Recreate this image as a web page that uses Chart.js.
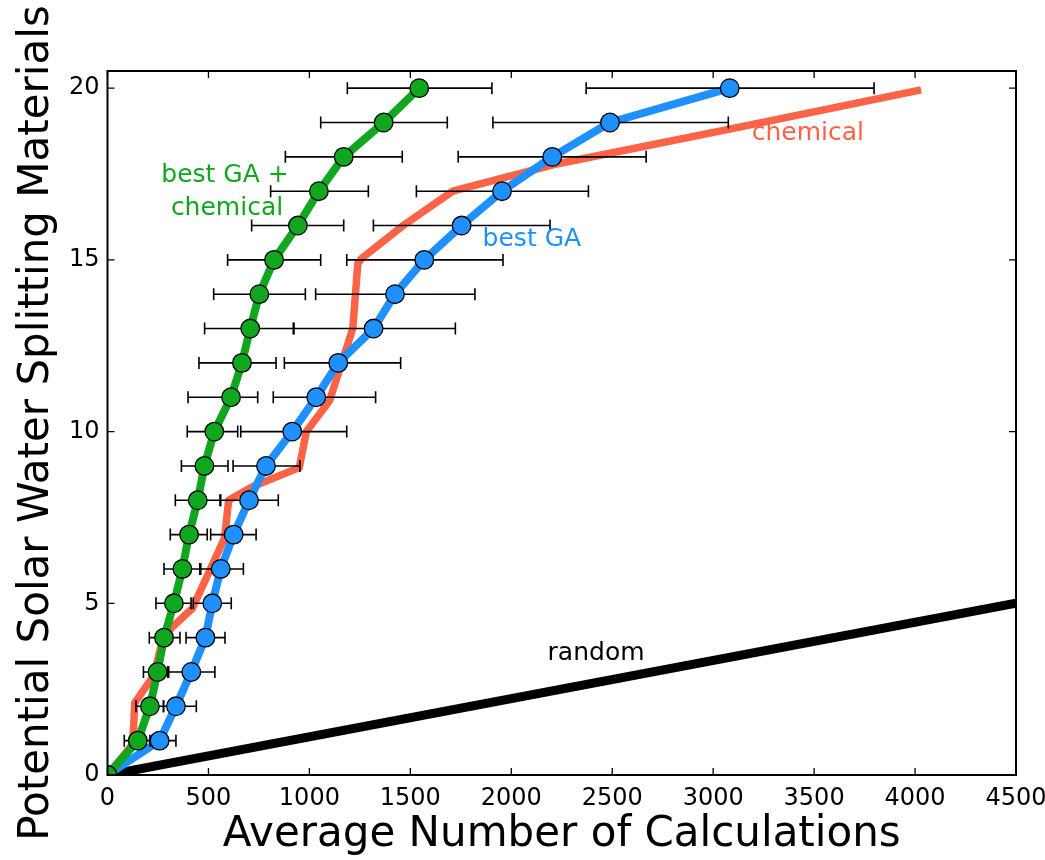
<!DOCTYPE html>
<html>
<head>
<meta charset="utf-8">
<script src="https://cdn.jsdelivr.net/npm/chart.js@4.4.1/dist/chart.umd.min.js"></script>
<style>
  html, body { margin: 0; padding: 0; background: #fff; }
  #wrap { width: 1045px; height: 860px; }
</style>
</head>
<body>
<div id="wrap"><canvas id="chart" width="1045" height="860"></canvas></div>
<script>
// number of materials found (y) for each run
const levels = [0, 1, 2, 3, 4, 5, 6, 7, 8, 9, 10, 11, 12, 13, 14, 15, 16, 17, 18, 19, 20];

// best GA + chemical
const greenX = [0, 150, 210, 248, 280, 329, 371, 404, 447, 480, 529, 612, 666, 707, 752, 825, 943, 1047, 1170, 1368, 1544];
const greenLo = [null, 83, 141, 178, 207, 240, 280, 311, 336, 366, 395, 399, 453, 481, 526, 595, 714, 808, 881, 1056, 1188];
const greenHi = [null, 219, 278, 298, 359, 414, 462, 494, 561, 597, 645, 744, 835, 920, 980, 1056, 1170, 1292, 1460, 1683, 1904];

// best GA
const blueX = [0, 258, 339, 415, 485, 519, 561, 625, 701, 785, 915, 1034, 1143, 1318, 1424, 1569, 1754, 1954, 2203, 2489, 3082];
const blueLo = [null, 210, 277, 303, 389, 425, 457, 511, 557, 622, 660, 821, 876, 924, 1031, 1185, 1317, 1530, 1737, 1909, 2371];
const blueHi = [null, 339, 440, 532, 582, 613, 673, 736, 846, 953, 1185, 1328, 1452, 1723, 1820, 1959, 2192, 2382, 2668, 3075, 3797];

// chemical ranking
const chemX = [0, 125, 135, 170, 230, 275, 320, 420, 510, 580, 600, 720, 950, 985, 1100, 1160, 1215, 1240, 1260, 1465, 1710, 2230, 3075, 4030];
const chemY = [0, 0.9, 2.1, 2.4, 2.9, 4, 4.3, 4.85, 6, 6.9, 8, 8.4, 8.95, 10, 10.9, 12, 13, 14.9, 15.05, 16, 17, 17.8, 18.8, 19.95];

// random search
const randX = [0, 4500];
const randY = [0, 5];

const xTicks = [0, 500, 1000, 1500, 2000, 2500, 3000, 3500, 4000, 4500];
const yTicks = [0, 5, 10, 15, 20];

const GREEN = "#10a61e";
const BLUE = "#1e90ff";
const ORANGE = "#ff6347";
const FONT = "'DejaVu Sans', 'Verdana', sans-serif";

const toPoints = (xs, ys) => xs.map((x, i) => ({ x: x, y: ys[i] }));

const labels = [
  { text: "best GA +", x: 582, y: 17.47, color: GREEN },
  { text: "chemical", x: 592, y: 16.51, color: GREEN },
  { text: "best GA", x: 2102, y: 15.58, color: BLUE },
  { text: "chemical", x: 3469, y: 18.69, color: ORANGE },
  { text: "random", x: 2420, y: 3.53, color: "#000" },
];

// horizontal error bars, drawn after the lines and before the markers
const errorBars = {
  id: "errorBars",
  afterDatasetDraw(chart, args) {
    if (args.index !== 2) return;
    const { ctx, scales } = chart;
    const sets = [
      [blueLo, blueHi],
      [greenLo, greenHi],
    ];
    ctx.save();
    ctx.strokeStyle = "#000";
    ctx.lineWidth = 1.6;
    sets.forEach(([lo, hi]) => {
      levels.forEach((lv, i) => {
        if (lo[i] == null) return;
        const y = scales.y.getPixelForValue(lv);
        const x1 = scales.x.getPixelForValue(lo[i]);
        const x2 = scales.x.getPixelForValue(hi[i]);
        ctx.beginPath();
        ctx.moveTo(x1, y);
        ctx.lineTo(x2, y);
        ctx.moveTo(x1, y - 6);
        ctx.lineTo(x1, y + 6);
        ctx.moveTo(x2, y - 6);
        ctx.lineTo(x2, y + 6);
        ctx.stroke();
      });
    });
    ctx.restore();
  },
};

// box round the plot with inward ticks, plus the text labels
const frame = {
  id: "frame",
  afterDraw(chart) {
    const { ctx, chartArea: a, scales } = chart;
    ctx.save();
    ctx.strokeStyle = "#000";
    ctx.lineWidth = 2;
    ctx.strokeRect(a.left, a.top, a.right - a.left, a.bottom - a.top);
    ctx.lineWidth = 1.3;
    ctx.beginPath();
    xTicks.forEach((v) => {
      const x = scales.x.getPixelForValue(v);
      ctx.moveTo(x, a.bottom);
      ctx.lineTo(x, a.bottom - 7);
      ctx.moveTo(x, a.top);
      ctx.lineTo(x, a.top + 7);
    });
    yTicks.forEach((v) => {
      const y = scales.y.getPixelForValue(v);
      ctx.moveTo(a.left, y);
      ctx.lineTo(a.left + 7, y);
      ctx.moveTo(a.right, y);
      ctx.lineTo(a.right - 7, y);
    });
    ctx.stroke();

    ctx.font = "25px " + FONT;
    ctx.textAlign = "center";
    ctx.textBaseline = "middle";
    labels.forEach((l) => {
      ctx.fillStyle = l.color;
      ctx.fillText(l.text, scales.x.getPixelForValue(l.x), scales.y.getPixelForValue(l.y));
    });
    ctx.restore();
  },
};

const markerStyle = (color) => ({
  showLine: false,
  pointRadius: 9.3,
  pointBackgroundColor: color,
  pointBorderColor: "#000",
  pointBorderWidth: 1.3,
  clip: 0,
});

const lineStyle = (color, width) => ({
  borderColor: color,
  borderWidth: width,
  pointRadius: 0,
  borderJoinStyle: "round",
  fill: false,
  clip: 0,
});

chart = new Chart(document.getElementById("chart").getContext("2d"), {
  type: "line",
  data: {
    datasets: [
      { label: "best GA + chemical", data: toPoints(greenX, levels), ...markerStyle(GREEN) },
      { label: "best GA", data: toPoints(blueX, levels), ...markerStyle(BLUE) },
      { label: "best GA + chemical line", data: toPoints(greenX, levels), ...lineStyle(GREEN, 8) },
      { label: "best GA line", data: toPoints(blueX, levels), ...lineStyle(BLUE, 8) },
      { label: "chemical", data: toPoints(chemX, chemY), ...lineStyle(ORANGE, 7.5) },
      { label: "random", data: toPoints(randX, randY), ...lineStyle("#000", 9) },
    ],
  },
  options: {
    responsive: false,
    animation: false,
    devicePixelRatio: 1,
    layout: { padding: { left: 0, right: 29, top: 71, bottom: 0 } },
    plugins: { legend: { display: false }, tooltip: { enabled: false } },
    scales: {
      x: {
        type: "linear",
        min: 0,
        max: 4500,
        grid: { display: false, drawTicks: false },
        border: { display: false },
        ticks: {
          stepSize: 500,
          padding: 9,
          color: "#000",
          font: { family: FONT, size: 24 },
          maxRotation: 0,
          callback: (v) => String(v),
        },
        afterBuildTicks: (s) => { s.ticks = xTicks.map((v) => ({ value: v })); },
        afterFit: (s) => {
          s.height = 85;
          s.paddingLeft = 0;
          s.paddingRight = 0;
        },
        title: {
          display: true,
          text: "Average Number of Calculations",
          color: "#000",
          font: { family: FONT, size: 42 },
          padding: { top: 0, bottom: 0 },
        },
      },
      y: {
        type: "linear",
        min: 0,
        max: 20.5,
        grid: { display: false, drawTicks: false },
        border: { display: false },
        ticks: { stepSize: 5, padding: 8, color: "#000", font: { family: FONT, size: 24 }, callback: (v) => String(v) },
        afterBuildTicks: (s) => { s.ticks = yTicks.map((v) => ({ value: v })); },
        afterFit: (s) => {
          s.width = 107.5;
          s.paddingTop = 0;
          s.paddingBottom = 0;
        },
        title: {
          display: true,
          text: "Potential Solar Water Splitting Materials",
          color: "#000",
          font: { family: FONT, size: 42 },
          padding: { top: 12, bottom: 0 },
        },
      },
    },
  },
  plugins: [errorBars, frame],
});
</script>
</body>
</html>
